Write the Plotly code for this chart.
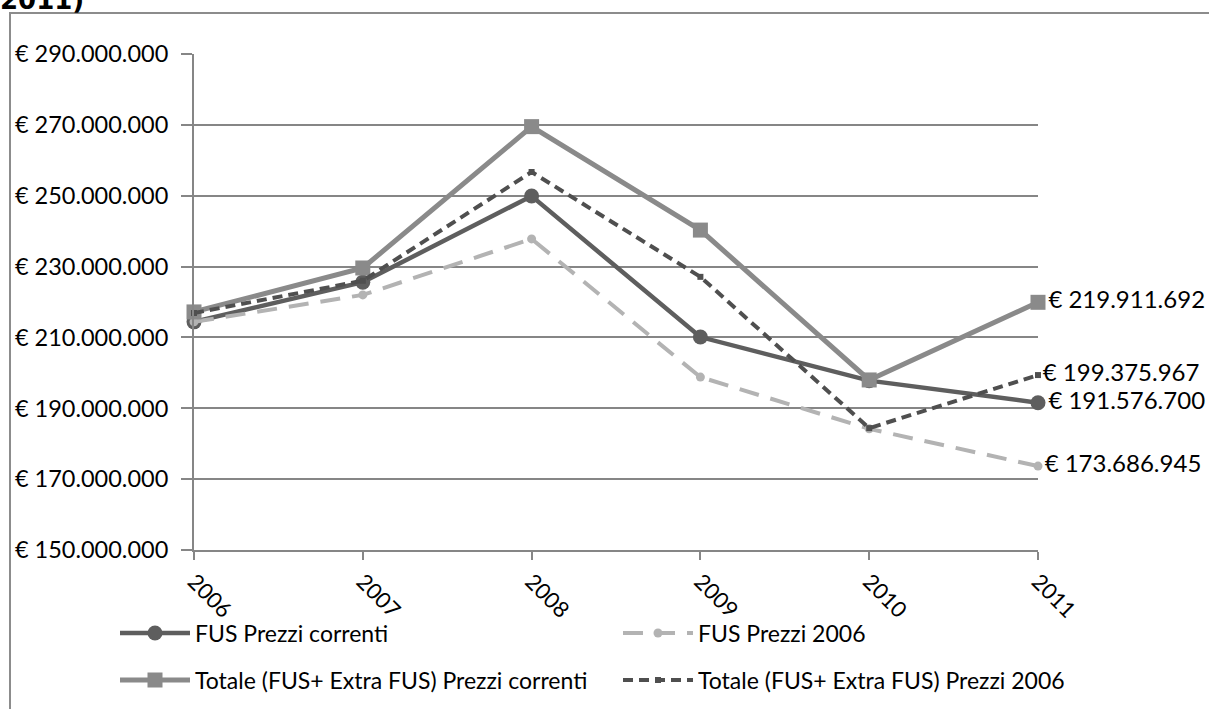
import plotly.graph_objects as go

years = ["2006", "2007", "2008", "2009", "2010", "2011"]
fus_correnti = [214400000, 225600000, 249900000, 210100000, 197800000, 191576700]
fus_2006 = [214400000, 222000000, 237800000, 198800000, 184200000, 173686945]
tot_correnti = [217200000, 229600000, 269500000, 240300000, 198000000, 219911692]
tot_2006 = [216900000, 226000000, 256700000, 227100000, 184400000, 199375967]

W, H = 1209, 709
L, R, T, B = 194, 1038, 54, 550   # plot area in pixels


def px_x(p):
    return (p - L) / (R - L)


def px_y(p):
    return (B - p) / (B - T)


def euro(v):
    return "€ " + f"{v:,.0f}".replace(",", ".")


def last_label(values):
    return [""] * (len(values) - 1) + [euro(values[-1])]


FONT = "Lato"
LABEL_FONT = dict(family=FONT, size=24, color="black")

fig = go.Figure()

fig.add_trace(go.Scatter(
    x=years, y=fus_correnti, name="FUS Prezzi correnti",
    mode="lines+markers+text", text=last_label(fus_correnti),
    textposition="middle right", cliponaxis=False, textfont=LABEL_FONT,
    line=dict(color="#5e5e5e", width=4.5),
    marker=dict(symbol="circle", size=15, color="#5e5e5e"),
    legend="legend"))

fig.add_trace(go.Scatter(
    x=years, y=fus_2006, name="FUS Prezzi 2006",
    mode="lines+markers+text", text=last_label(fus_2006),
    textposition="middle right", cliponaxis=False, textfont=LABEL_FONT,
    line=dict(color="#b3b3b3", width=4, dash="20px,12px"),
    marker=dict(symbol="circle", size=9, color="#b3b3b3"),
    legend="legend2"))

fig.add_trace(go.Scatter(
    x=years, y=tot_correnti, name="Totale (FUS+ Extra FUS) Prezzi correnti",
    mode="lines+markers+text", text=last_label(tot_correnti),
    textposition="middle right", cliponaxis=False, textfont=LABEL_FONT,
    line=dict(color="#8a8a8a", width=5),
    marker=dict(symbol="square", size=15, color="#8a8a8a"),
    legend="legend3"))

fig.add_trace(go.Scatter(
    x=years, y=tot_2006, name="Totale (FUS+ Extra FUS) Prezzi 2006",
    mode="lines+markers+text", text=last_label(tot_2006),
    textposition="middle right", cliponaxis=False, textfont=LABEL_FONT,
    line=dict(color="#4f4f4f", width=4, dash="10px,6px"),
    marker=dict(symbol="square", size=6, color="#4f4f4f"),
    legend="legend4"))

tickvals = list(range(150000000, 290000001, 20000000))


def legend_box(x, y):
    # placed in container (whole figure) pixels so it does not push margins
    return dict(visible=True, orientation="h", itemwidth=70,
                xref="container", yref="container",
                x=x / W, y=1 - y / H, xanchor="left", yanchor="middle",
                bgcolor="rgba(0,0,0,0)", font=dict(size=23, color="black"))


fig.update_layout(
    width=W, height=H,
    margin=dict(l=L, r=W - R, t=T, b=H - B, autoexpand=False),
    plot_bgcolor="white", paper_bgcolor="white",
    font=dict(family=FONT, color="black"),
    showlegend=True,
    xaxis=dict(type="category", range=[0, 5], showgrid=False,
               showline=True, linecolor="#868686", linewidth=2,
               ticks="outside", ticklen=8, tickcolor="#868686", tickwidth=2,
               tickangle=45, ticklabelstandoff=0,
               tickfont=dict(size=22, color="black")),
    yaxis=dict(range=[150000000, 290000000], tickvals=tickvals,
               ticktext=[euro(v) for v in tickvals],
               showgrid=True, gridcolor="#868686", gridwidth=2,
               zeroline=False, showline=True, linecolor="#868686", linewidth=2,
               ticks="outside", ticklen=11, tickcolor="#868686", tickwidth=2,
               ticklabelstandoff=8, tickfont=dict(size=23.5, color="black")),
    legend=legend_box(115, 633),
    legend2=legend_box(618, 633),
    legend3=legend_box(115, 680),
    legend4=legend_box(618, 680),
    shapes=[dict(type="rect", xref="paper", yref="paper",
                 x0=px_x(10), x1=px_x(1400), y0=px_y(900), y1=px_y(13),
                 line=dict(color="#8c8c8c", width=2), layer="below")],
    annotations=[dict(text="<b>2011)</b>", xref="paper", yref="paper",
                      x=px_x(-2), y=px_y(17), xanchor="left", yanchor="bottom",
                      showarrow=False,
                      font=dict(family="DejaVu Sans", size=26, color="black"))],
)

fig.write_html("out.html", config={"displayModeBar": False},
               post_script="document.body.style.margin='0';")
